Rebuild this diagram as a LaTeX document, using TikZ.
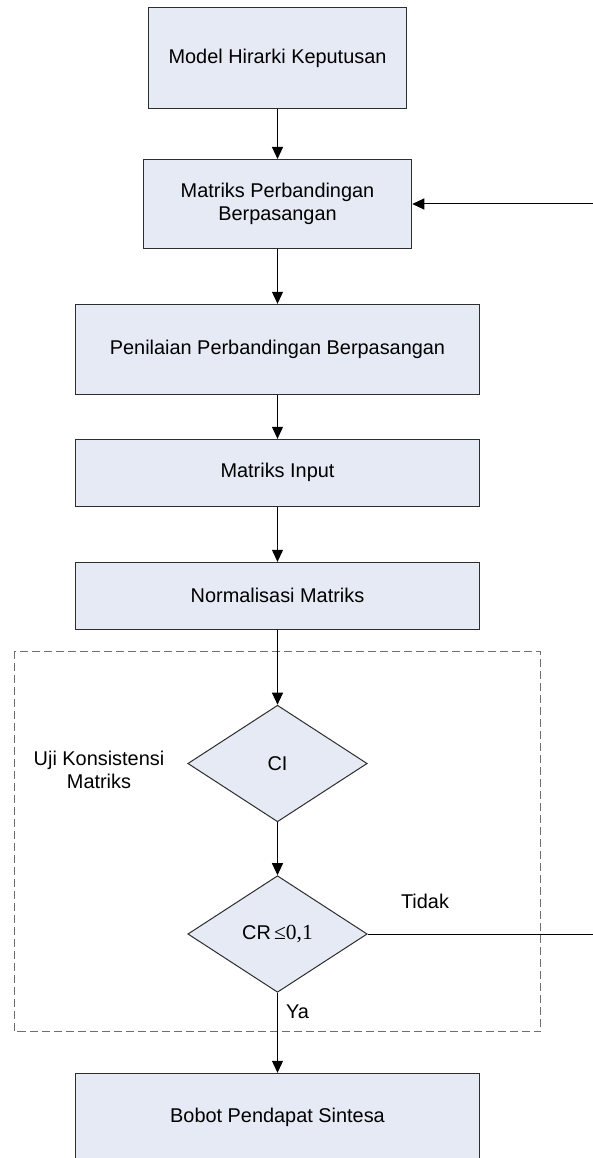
\documentclass[tikz,border=0pt]{standalone}
\usepackage{fontspec}
\setmainfont{Liberation Sans}
\newfontfamily\serifnum{Liberation Serif}
\usetikzlibrary{shapes.geometric,arrows.meta}
\definecolor{boxfill}{RGB}{230,234,244}
\definecolor{boxline}{RGB}{45,45,45}
\definecolor{dashgray}{RGB}{110,110,110}

\begin{document}
\begin{tikzpicture}[x=1pt,y=-1pt,
  every node/.style={font=\fontsize{19.9}{23.3}\selectfont, text=black},
  proc/.style={draw=boxline, fill=boxfill, line width=1pt, inner sep=0pt,
               align=center, minimum width=403.3pt},
  decide/.style={draw=boxline, fill=boxfill, line width=1pt, diamond,
                 inner sep=0pt, minimum width=179.4pt, minimum height=116.6pt},
  flow/.style={draw=black, line width=1pt, -{Triangle[length=12pt,width=11pt]}},
  groupbox/.style={draw=dashgray, line width=0.9pt, dash pattern=on 8pt off 4pt}]

\useasboundingbox (0,0) rectangle (593,1158);
\fill[white] (0,0) rectangle (593,1158);

% grouping frame for the consistency test
\draw[groupbox] (14,651) rectangle (540.7,1031.5);

% process steps
\node[proc, minimum width=258.5pt, minimum height=101pt] (model) at (277.5,58.5) {Model Hirarki Keputusan};
\node[proc, minimum width=268.5pt, minimum height=89pt] (pairmat) at (277.5,204) {Matriks Perbandingan\\Berpasangan};
\node[proc, minimum height=90pt] (assess) at (277.5,349.3) {Penilaian Perbandingan Berpasangan};
\node[proc, minimum height=66.7pt] (input) at (277.5,472.7) {Matriks Input};
\node[proc, minimum height=66.7pt] (norm) at (277.5,595.7) {Normalisasi Matriks};

% decisions
\node[decide] (ci) at (277.5,763.5) {CI};
\node[decide] (cr) at (277.5,934) {CR\,{\serifnum\fontsize{21.5}{23.3}\selectfont ≤0,1}};

% result
\node[proc, minimum height=88pt] (weight) at (277.5,1117.3) {Bobot Pendapat Sintesa};

% labels
\node[align=center] (uji) at (99,770) {Uji Konsistensi\\Matriks};
\node (tidak) at (425,901) {Tidak};
\node (ya) at (297.5,1011.7) {Ya};

% connectors
\draw[flow] (model) -- (pairmat);
\draw[flow] (pairmat) -- (assess);
\draw[flow] (assess) -- (input);
\draw[flow] (input) -- (norm);
\draw[flow] (norm) -- (ci);
\draw[flow] (ci) -- (cr);
\draw[flow] (cr) -- (weight);

% feedback when the ratio fails
\coordinate (loopx) at (600,0);
\draw[flow] (cr.east) -- (cr.east -| loopx) |- (pairmat.east);
\end{tikzpicture}
\end{document}
